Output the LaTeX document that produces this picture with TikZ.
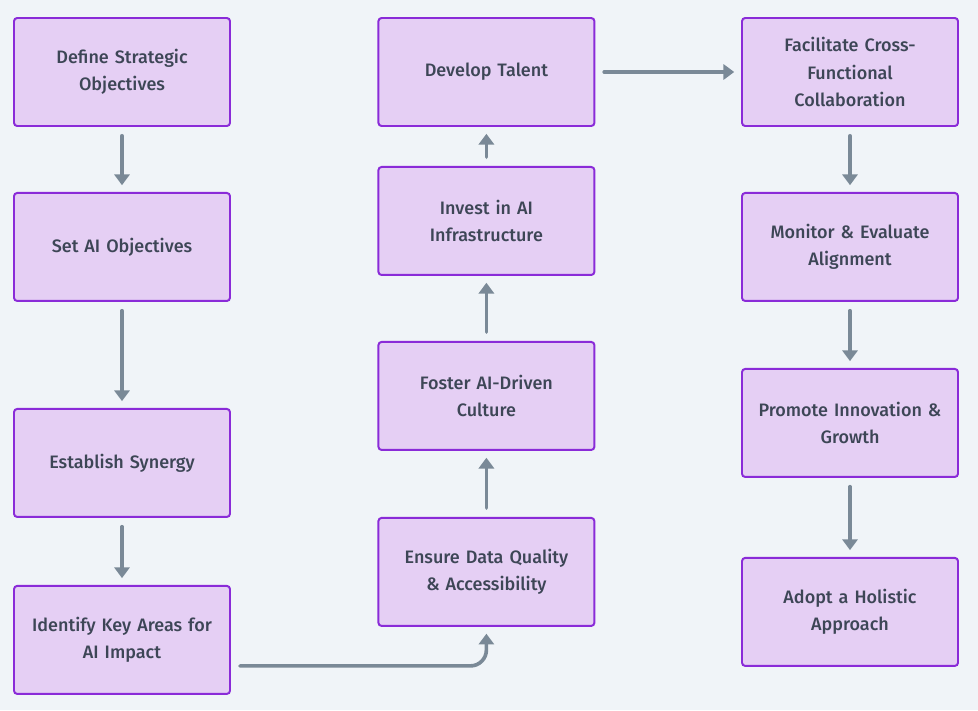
\documentclass[tikz,border=0pt]{standalone}
\usepackage{fontspec}
\setmainfont{Fira Sans}[UprightFont={* Medium}]
\usetikzlibrary{positioning, arrows.meta}
\definecolor{boxfill}{RGB}{229,207,244}
\definecolor{boxline}{RGB}{138,43,216}
\definecolor{arrowgray}{RGB}{122,137,151}
\definecolor{textgray}{RGB}{61,70,86}
\definecolor{bggray}{RGB}{240,244,248}
\tikzstyle{stepbox} = [rectangle, rounded corners=0.08cm, line width=1.4pt, minimum width=5.4cm, minimum height=2.7cm, text width=5cm, align=center, draw=boxline, fill=boxfill, text=textgray, font=\fontsize{12.8}{19.5}\selectfont]
\tikzstyle{arrow} = [line width=2.6pt, draw=arrowgray, line cap=round, -{Triangle[width=0.38cm,length=0.27cm]}, shorten <=0.22cm, shorten >=0.17cm]

\begin{document}
\begin{tikzpicture}

\fill [bggray] (0,0) rectangle (24.45,-17.75);
\useasboundingbox (0,0) rectangle (24.45,-17.75);

% first column
\node (q1) [stepbox] at (3.05,-1.8) {Define Strategic\\Objectives};
\node (q2) [stepbox, below=1.625cm of q1] {Set AI Objectives};
\node (q3) [stepbox, below=2.65cm of q2] {Establish Synergy};
\node (q4) [stepbox, below=1.675cm of q3] {Identify Key Areas for\\AI Impact};

% second column, going up
\node (r4) [stepbox] at (12.16,-1.8) {Develop Talent};
\node (r3) [stepbox, below=0.975cm of r4] {Invest in AI\\Infrastructure};
\node (r2) [stepbox, below=1.625cm of r3] {Foster AI-Driven\\Culture};
\node (r1) [stepbox, below=1.65cm of r2] {Ensure Data Quality\\\& Accessibility};

% third column
\node (s1) [stepbox] at (21.25,-1.8) {Facilitate Cross-\\Functional\\Collaboration};
\node (s2) [stepbox, below=1.625cm of s1] {Monitor \& Evaluate\\Alignment};
\node (s3) [stepbox, below=1.65cm of s2] {Promote Innovation \&\\Growth};
\node (s4) [stepbox, below=1.975cm of s3] {Adopt a Holistic\\Approach};

\draw [arrow] (q1) -- (q2);
\draw [arrow] (q2) -- (q3);
\draw [arrow] (q3) -- (q4);
\draw [arrow, shorten <=0, rounded corners=0.4cm] ([xshift=0.225cm,yshift=-0.65cm]q4.east) -| (r1.south);
\draw [arrow] (r1) -- (r2);
\draw [arrow] (r2) -- (r3);
\draw [arrow] (r3) -- (r4);
\draw [arrow] (r4) -- (s1);
\draw [arrow] (s1) -- (s2);
\draw [arrow] (s2) -- (s3);
\draw [arrow] (s3) -- (s4);

\end{tikzpicture}
\end{document}
